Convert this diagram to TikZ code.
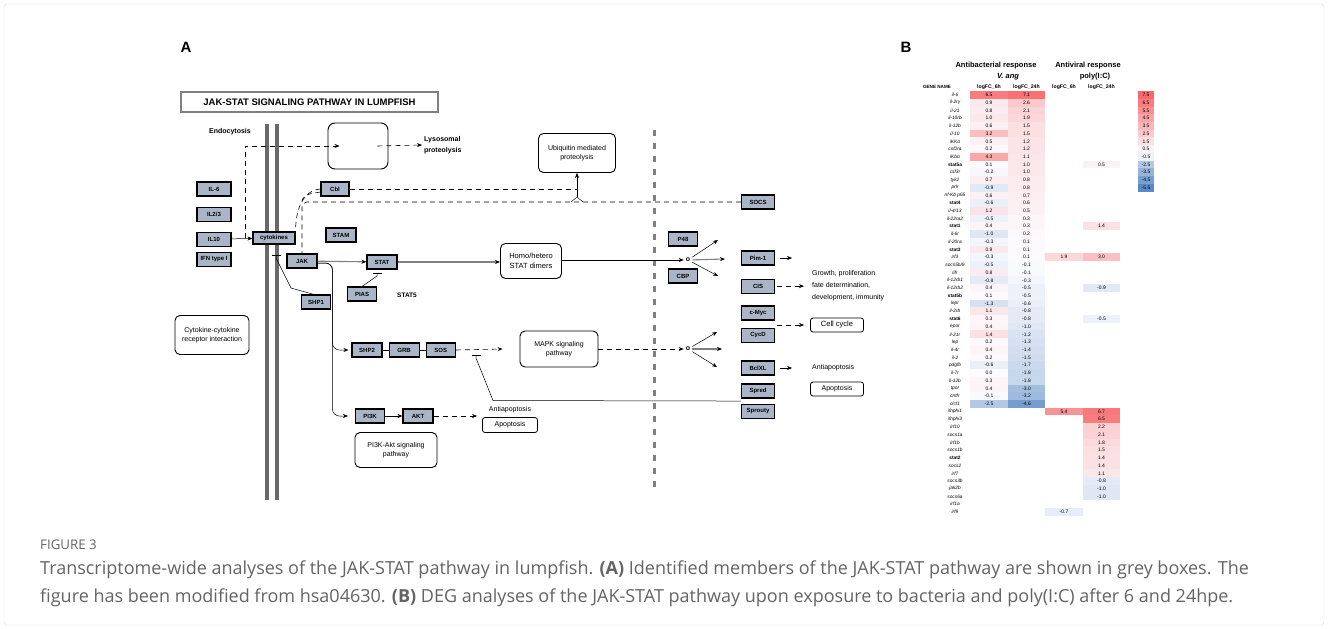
\documentclass[tikz,border=0pt]{standalone}
\usepackage{fontspec}
\setmainfont{Liberation Sans}
\newfontfamily\capfont{Open Sans}
\usetikzlibrary{arrows.meta,positioning}

\definecolor{genefill}{RGB}{170,182,200}
\definecolor{memgray}{RGB}{105,105,105}
\definecolor{capgray}{RGB}{100,100,100}
\definecolor{hmred}{RGB}{248,105,107}
\definecolor{hmwhite}{RGB}{252,252,255}
\definecolor{hmblue}{RGB}{90,138,198}

% heatmap cell: [width]{x}{y}{value}, value x = empty
\def\hmnone{x}
\newcommand\hmcell[4][37.5]{%
  \edef\hmv{#4}%
  \ifx\hmv\hmnone\else
    \pgfmathsetmacro\hmp{(#4)>0 ? min(100,100*(#4)/7.5) : min(100,-100*(#4)/5.5)}%
    \ifdim #4pt>0pt \def\hmc{hmred}\else\def\hmc{hmblue}\fi
    \fill[\hmc!\hmp!hmwhite] (#2-#1/2,#3-3.86) rectangle (#2+#1/2,#3+3.86);
    \node[hmnum] at (#2,#3) {#4};
  \fi}

\begin{document}
\begin{tikzpicture}[x=1pt,y=-1pt,
    font=\fontsize{7}{8.5}\selectfont,
    node distance=6pt and 6pt,
    gene/.style={draw, line width=1.1pt, fill=genefill, minimum width=30pt,
      minimum height=14pt, inner sep=1pt, font=\fontsize{6}{7}\selectfont\bfseries},
    pbox/.style={draw, line width=0.9pt, rounded corners=5pt, fill=white,
      align=center, inner sep=1pt},
    lbox/.style={draw, line width=0.8pt, rounded corners=2.5pt,
      minimum height=14pt, inner sep=1pt},
    note/.style={inner sep=0pt, align=left},
    edge/.style={-{Stealth[length=5pt,width=4pt]}, line width=0.5pt},
    gedge/.style={-{Stealth[length=5pt,width=4pt,color=black]}, line width=1.1pt, draw=gray},
    dedge/.style={dash pattern=on 5pt off 4pt, line width=0.6pt},
    inh/.style={-{Bar[width=9pt]}, line width=0.5pt},
    membrane/.style={line width=4pt, draw=memgray},
    nucleus/.style={line width=3pt, draw=gray, dash pattern=on 6pt off 7pt},
    gname/.style={inner sep=0pt, font=\fontsize{4.8}{5}\selectfont},
    hmnum/.style={inner sep=0pt, font=\fontsize{5}{5}\selectfont},
    hmhead/.style={inner sep=0pt, font=\fontsize{5.2}{6}\selectfont\bfseries}
  ]
\useasboundingbox (0,0) rectangle (1328,629);
\draw[gray!30, rounded corners=3pt] (4,4) rectangle (1324,625);

% panel A
\node[font=\fontsize{15}{16}\selectfont\bfseries] (lettA) at (186,47) {A};
\node[draw=gray, line width=1.4pt, minimum width=257pt, minimum height=20pt,
  font=\fontsize{9.5}{11}\selectfont\bfseries] (title) at (309.5,102)
  {JAK-STAT SIGNALING PATHWAY IN LUMPFISH};
% cell membrane and nuclear border
\draw[membrane] (267,124) -- (267,500);
\draw[membrane] (277,124) -- (277,500);
\draw[nucleus] (654,130) -- (654,492);
% ligands
\node[gene, minimum width=34pt] (il6) at (214,189) {IL-6};
\node[gene, minimum width=34pt, below=10pt of il6] (il23) {IL2/3};
\node[gene, minimum width=34pt, below=10pt of il23] (il10) {IL10};
\node[gene, minimum width=34pt, below=5pt of il10] (ifn) {IFN type I};
\node[gene, minimum width=42pt, minimum height=12pt] (cyto) at (274,238) {cytokines};
\node[pbox, align=center, minimum width=74pt, minimum height=39pt] (ccr) at (212,335)
  {Cytokine-cytokine\\receptor interaction};
% endocytosis
\node[font=\fontsize{7}{8}\selectfont\bfseries] (endotxt) at (230,132) {Endocytosis};
\node[pbox, rounded corners=7pt, minimum width=60pt, minimum height=46pt] (endo) at (358,146) {};
\node[note, anchor=west, font=\fontsize{7}{11}\selectfont\bfseries] (lyso) at (424,145)
  {Lysosomal\\proteolysis};
% cytoplasm
\node[gene, minimum width=28pt] (cbl) at (335,189) {Cbl};
\node[gene] (stam) at (341,235) {STAM};
\node[gene] (jak) at (302,261) {JAK};
\node[gene] (stat) at (382,262) {STAT};
\node[gene, minimum width=29pt] (pias) at (362,294) {PIAS};
\node[font=\fontsize{6.5}{7}\selectfont\bfseries] (stat5) at (407,295) {STAT5};
\node[gene, minimum width=29pt] (shp1) at (316,302) {SHP1};
\node[gene] (shp2) at (367,350) {SHP2};
\node[gene, right=6pt of shp2] (grb) {GRB};
\node[gene, minimum width=29pt, right=6pt of grb] (sos) {SOS};
\node[gene, minimum width=29pt] (pi3k) at (370,416) {PI3K};
\node[gene] (akt) at (418,416) {AKT};
\node[pbox, minimum width=82pt, minimum height=35pt] (pakt) at (396,450)
  {PI3K-Akt signaling\\pathway};
\node[note] (anti1) at (510,410) {Antiapoptosis};
\node[lbox, minimum width=55pt, minimum height=15pt] (apop1) at (510,425) {Apoptosis};
\node[pbox, minimum width=77pt, minimum height=39pt] (ubiq) at (577,153)
  {Ubiquitin mediated\\proteolysis};
\node[pbox, minimum width=61pt, minimum height=35pt, font=\fontsize{7.5}{9.5}\selectfont]
  (dimers) at (531,261) {Homo/hetero\\STAT dimers};
\node[pbox, minimum width=78pt, minimum height=36pt] (mapk) at (559,349)
  {MAPK signaling\\pathway};
% nucleus
\node[gene, minimum width=29pt] (p48) at (683,239) {P48};
\node[gene, minimum width=29pt] (cbp) at (683,276) {CBP};
\node[font=\fontsize{7}{8}\selectfont\bfseries, inner sep=2pt] (o1) at (688,260) {o};
\node[font=\fontsize{7}{8}\selectfont\bfseries, inner sep=2pt] (o2) at (688,349) {o};
\node[gene, minimum width=33pt] (socs) at (758,202) {SOCS};
\node[gene, minimum width=33pt] (pim) at (758,258) {Pim-1};
\node[gene, minimum width=33pt, below=13pt of pim] (cis) {CIS};
\node[gene, minimum width=33pt] (myc) at (758,313) {c-Myc};
\node[gene, minimum width=33pt, below=7pt of myc] (cycd) {CycD};
\node[gene, minimum width=33pt] (bclxl) at (758,368) {BclXL};
\node[gene, minimum width=33pt] (spred) at (758,391) {Spred};
\node[gene, minimum width=33pt, below=5pt of spred] (sprouty) {Sprouty};
\node[note, anchor=west, font=\fontsize{7}{12}\selectfont] (growth) at (812,286)
  {Growth, proliferation\\fate determination,\\development, immunity};
\node[lbox, minimum width=53pt, font=\fontsize{7.5}{8}\selectfont] (ccycle) at (837,325) {Cell cycle};
\node[note, anchor=west] (anti2) at (812,368) {Antiapoptosis};
\node[lbox, minimum width=53pt] (apop2) at (837,389) {Apoptosis};
% free ends
\coordinate (ujoin) at (577,197);
\coordinate (o1a) at (718,240);
\coordinate (o1b) at (725,259);
\coordinate (o1c) at (718,276);
\coordinate (o2a) at (717,332);
\coordinate (o2b) at (722,349);
\coordinate (o2c) at (717,367);

% edges: membrane
\draw[edge] (il10) -- (cyto);
\draw[dedge, -{Stealth[length=5pt,width=4pt]}] ([xshift=-7pt]cyto.west) |- ([xshift=12pt]endo.west);
\draw[dedge, -{Stealth[length=5pt,width=4pt]}] ([xshift=-11pt]endo.east) -- ([xshift=-2pt]lyso.west);
\draw[dedge] (cbl.west) to[out=185,in=90] (cyto.north east);
\draw[dedge] ([yshift=-3pt]cbl.west) to[out=190,in=90] (jak.north |- socs.west);
\draw[dedge, rounded corners=5pt] (socs.west) -| (jak.north);
\draw[dedge] (cbl.east) -- (cbl.east -| ujoin);
\draw ([xshift=-6pt]ujoin |- socs.west) -- (ujoin) -- ([xshift=6pt]ujoin |- socs.west);
\draw[edge] (ujoin) -- (ubiq.south);
\draw[inh] ([xshift=-2pt]shp1.north) -- (291,288) -- (276,258) -- (276,255);
% JAK-STAT
\draw[gedge] (jak) -- (stat);
\draw[gedge] (stat.east) -- (dimers.west |- stat.east);
\draw[inh] (pias.north) -- (377,276) -- (377,273);
\draw[edge] (dimers.east |- o1) -- (o1);
\draw[edge] (o1) -- (o1a);
\draw[gedge] (o1) -- (o1b);
\draw[edge] (o1) -- (o1c);
% MAPK and PI3K branches
\draw[edge, rounded corners=7pt] ([yshift=-2pt]jak.east) -| ([xshift=-19pt]shp2.west)
  -- ([xshift=-3pt]shp2.west);
\draw[edge, rounded corners=7pt] ([yshift=-2pt]jak.east) -| ([xshift=-19pt]shp2.west |- pi3k.west)
  -- ([xshift=-7pt]pi3k.west);
\draw (shp2) -- (grb);
\draw (grb) -- (sos);
\draw[dedge, -{Stealth[length=5pt,width=4pt]}] (sos.east) -- ([xshift=-17pt]mapk.west);
\draw[dedge, -{Stealth[length=5pt,width=4pt]}] (mapk.east) -- (o2);
\draw[edge] (o2) -- (o2a);
\draw[gedge] (o2) -- (o2b);
\draw[edge] (o2) -- (o2c);
\draw[edge] (pi3k) -- (akt);
\draw[dedge, -{Stealth[length=5pt,width=4pt]}] (akt.east) -- ([xshift=-5pt]akt.east -| apop1.west);
\draw[inh] ([yshift=-2.5pt]spred.south west) -- (493,400.5) -- (476,358) -- (476,355);
% target genes
\draw[edge] ([xshift=5pt]pim.east) -- ++(12,0);
\draw[dedge, -{Stealth[length=5pt,width=4pt]}] ([xshift=2pt]cis.east) -- ([xshift=-8pt]cis.east -| growth.west);
\draw[dedge, -{Stealth[length=5pt,width=4pt]}] ([xshift=2pt]ccycle.west -| myc.east) -- ([xshift=-6pt]ccycle.west);
\draw[edge] ([xshift=5pt]bclxl.east) -- ++(12,0);

% panel B
\node[font=\fontsize{15}{16}\selectfont\bfseries] (lettB) at (906,47) {B};
\node[font=\fontsize{7.5}{9}\selectfont\bfseries] (hbac) at (996,66) {Antibacterial response};
\node[font=\fontsize{7.5}{9}\selectfont\bfseries\itshape] (hvang) at (1008,77) {V. ang};
\node[font=\fontsize{7.5}{9}\selectfont\bfseries] (hvir) at (1088,66) {Antiviral response};
\node[font=\fontsize{7.5}{9}\selectfont\bfseries] (hpoly) at (1095,77) {poly(I:C)};
\node[hmhead, font=\fontsize{4.6}{5}\selectfont\bfseries] (hgene) at (937,87) {GENE NAME};
\node[hmhead] (hc1) at (989,87) {logFC\_6h};
\node[hmhead] (hc2) at (1026.5,87) {logFC\_24h};
\node[hmhead] (hc3) at (1064,87) {logFC\_6h};
\node[hmhead] (hc4) at (1101.5,87) {logFC\_24h};
\foreach \g/\s/\a/\b/\c/\d [count=\i] in {
    il-6/n/6.5/7.1/x/x, il-2rγ/n/0.9/2.6/x/x, il-21/n/0.8/2.1/x/x,
    il-10rb/n/1.0/1.9/x/x, il-12b/n/0.6/1.5/x/x, il-10/n/3.2/1.5/x/x,
    iKKα/n/0.5/1.2/x/x, csf2ra/n/0.2/1.2/x/x, iKbα/n/4.3/1.1/x/x,
    stat5a/b/0.1/1.0/x/0.5, csf3r/n/-0.2/1.0/x/x, tyk2/n/0.7/0.8/x/x,
    prlr/n/-0.9/0.8/x/x, nf-Kb p65/n/0.6/0.7/x/x, stat4/b/-0.6/0.6/x/x,
    {il-4/13}/n/1.2/0.5/x/x, il-22ra2/n/-0.5/0.3/x/x, stat1/b/0.4/0.3/x/1.4,
    il-6r/n/-1.0/0.2/x/x, il-20ra/n/-0.3/0.1/x/x, stat3/b/0.9/0.1/x/x,
    irf3/n/-0.3/0.1/1.9/3.0, {socs5b/9}/n/-0.5/-0.1/x/x, lifr/n/0.8/-0.1/x/x,
    il-12rb1/n/-0.8/-0.3/x/x, il-12rb2/n/0.4/-0.5/x/-0.9, stat5b/b/0.1/-0.5/x/x,
    lepr/n/-1.3/-0.6/x/x, il-2rb/n/1.1/-0.8/x/x, stat6/b/0.3/-0.8/x/-0.5,
    epor/n/0.4/-1.0/x/x, il-21r/n/1.4/-1.2/x/x, lep/n/0.2/-1.3/x/x,
    il-4r/n/0.4/-1.4/x/x, il-2/n/0.2/-1.5/x/x, pdgfb/n/-0.6/-1.7/x/x,
    il-7r/n/0.0/-1.8/x/x, il-12b/n/0.3/-1.8/x/x, tpor/n/0.4/-3.0/x/x,
    cntfr/n/-0.1/-3.2/x/x, clcf1/n/-2.5/-4.6/x/x, ifnphi1/n/x/x/5.4/6.7,
    ifnphi3/n/x/x/x/6.5, irf10/n/x/x/x/2.2, socs1a/n/x/x/x/2.1,
    irf1b/n/x/x/x/1.8, socs1b/n/x/x/x/1.5, stat2/b/x/x/x/1.4,
    socs2/n/x/x/x/1.4, irf7/n/x/x/x/1.1, socs3b/n/x/x/x/-0.8,
    jak2b/n/x/x/x/-1.0, socs6a/n/x/x/x/-1.0, irf1a/n/x/x/x/x,
    irf9/n/x/x/-0.7/x}{
  \pgfmathsetmacro\ry{95+(\i-1)*7.72}
  \node[gname] (g\i) at (955,\ry) {\if b\s\bfseries\else\itshape\fi\g};
  \hmcell{989}{\ry}{\a}
  \hmcell{1026.5}{\ry}{\b}
  \hmcell{1064}{\ry}{\c}
  \hmcell{1101.5}{\ry}{\d}
}
% colour key
\foreach \v [count=\k] in {7.5,6.5,5.5,4.5,3.5,2.5,1.5,0.5,-0.5,-2.5,-3.5,-4.5,-5.5}{
  \pgfmathsetmacro\ly{95+(\k-1)*7.72}
  \hmcell[16]{1146}{\ly}{\v}
}

% caption
\node[anchor=west, inner sep=0pt, text=capgray, font=\capfont\fontsize{13.3}{15}\selectfont]
  (figno) at (40,545) {FIGURE 3};
\node[anchor=west, inner sep=0pt, text=capgray, font=\capfont\fontsize{18}{20}\selectfont]
  (cap1) at (40,570) {Transcriptome-wide analyses of the JAK-STAT pathway in lumpfish.
  \textbf{(A)} Identified members of the JAK-STAT pathway are shown in grey boxes. The};
\node[anchor=west, inner sep=0pt, text=capgray, font=\capfont\fontsize{18}{20}\selectfont]
  (cap2) at (40,598) {figure has been modified from hsa04630. \textbf{(B)} DEG analyses
  of the JAK-STAT pathway upon exposure to bacteria and poly(I:C) after 6 and 24hpe.};
\end{tikzpicture}
\end{document}
